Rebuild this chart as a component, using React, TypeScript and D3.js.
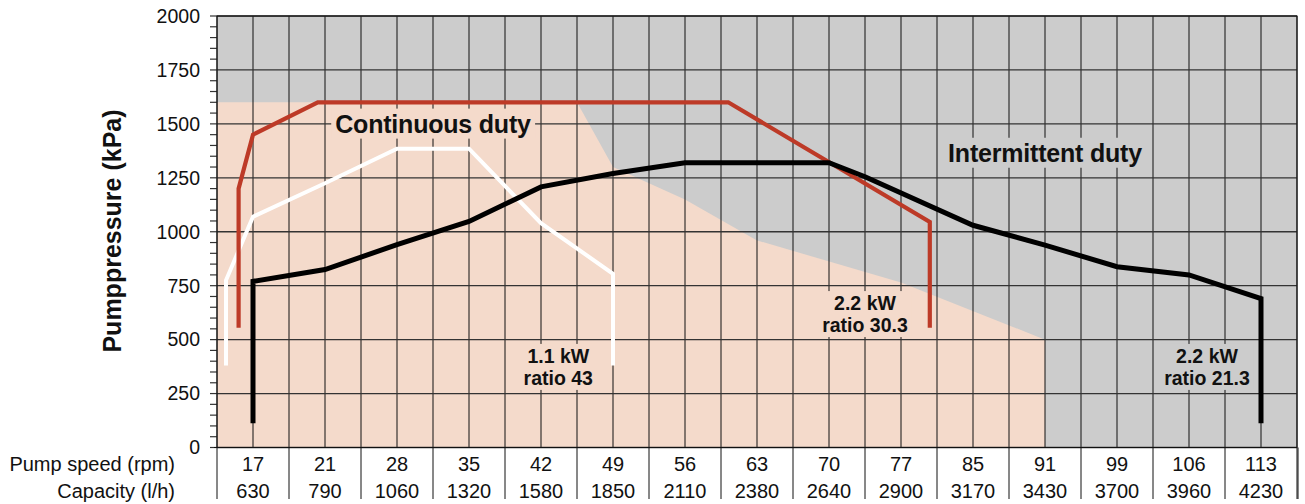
import React, { useEffect, useRef } from 'react';
import * as d3 from 'd3';

// categories along the bottom
const pumpSpeeds = [17, 21, 28, 35, 42, 49, 56, 63, 70, 77, 85, 91, 99, 106, 113];
const capacities = [630, 790, 1060, 1320, 1580, 1850, 2110, 2380, 2640, 2900, 3170, 3430, 3700, 3960, 4230];
const pressureTicks = [0, 250, 500, 750, 1000, 1250, 1500, 1750, 2000];

// curves: [column index, pressure kPa]
const motor11: [number, number][] = [
  [-0.375, 380], [-0.375, 775], [0, 1070], [1, 1225], [2, 1385], [3, 1385], [4, 1040], [5, 805], [5, 380],
];
const motor22r30: [number, number][] = [
  [-0.2, 555], [-0.2, 1200], [0, 1450], [0.9, 1600], [6.6, 1600], [9.4, 1045], [9.4, 555],
];
const motor22r21: [number, number][] = [
  [0, 112], [0, 770], [1, 825], [2, 940], [3, 1048], [4, 1208], [5, 1270], [6, 1320], [8, 1320],
  [8.5, 1255], [10, 1030], [11, 938], [12, 838], [13, 800], [14, 690], [14, 112],
];
// continuous duty area (the rest of the plot is intermittent)
const continuousArea: [number, number][] = [
  [-0.5, 0], [-0.5, 1600], [4.5, 1600], [5, 1300], [6, 1150], [7, 960], [9, 765], [11, 500], [11, 0],
];

const areaLabels = [
  { text: 'Continuous duty', x: 2.5, y: 1500, bg: '#f4dacb' },
  { text: 'Intermittent duty', x: 11, y: 1365, bg: '#cccccc' },
];
const curveLabels = [
  { lines: ['1.1 kW', 'ratio 43'], x: 4.24, y: 392, bg: '#f4dacb' },
  { lines: ['2.2 kW', 'ratio 30.3'], x: 8.5, y: 637, bg: '#f4dacb' },
  { lines: ['2.2 kW', 'ratio 21.3'], x: 13.25, y: 392, bg: '#cccccc' },
];

const W = 1305;
const H = 504;
const left = 217;
const right = 1297;
const top = 16;
const bottom = 447.5;
const font = 'Helvetica, Arial, "Liberation Sans", sans-serif';

export default function App() {
  const ref = useRef<SVGSVGElement>(null);

  const x = d3.scaleLinear().domain([-0.5, pumpSpeeds.length - 0.5]).range([left, right]);
  const y = d3.scaleLinear().domain([0, 2000]).range([bottom, top]);
  const line = d3.line<[number, number]>().x(d => x(d[0])).y(d => y(d[1]));

  const minorTicks = d3.range(0, 2001, 50);
  const vGrid = d3.range(-0.5, pumpSpeeds.length, 0.5);
  const bounds = d3.range(-0.5, pumpSpeeds.length, 1);

  useEffect(() => {
    // knock the grid out behind the labels
    const svg = d3.select(ref.current);
    svg.selectAll<SVGGElement, unknown>('g.lbl').each(function () {
      const g = d3.select(this);
      const b = (this as SVGGElement).getBBox();
      g.insert('rect', ':first-child')
        .attr('x', b.x - 4)
        .attr('y', b.y - 1)
        .attr('width', b.width + 8)
        .attr('height', b.height + 2)
        .attr('fill', g.attr('data-bg'));
    });
  }, []);

  return (
    <svg ref={ref} width={W} height={H} style={{ position: 'absolute', left: 0, top: 0 }} fontFamily={font}>
      <rect x={left} y={top} width={right - left} height={bottom - top} fill="#cccccc" />
      <path d={line(continuousArea) + 'Z'} fill="#f4dacb" />

      {/* grid */}
      {vGrid.map(v => (
        <line key={'v' + v} x1={x(v)} x2={x(v)} y1={top} y2={bottom} stroke="#111" strokeWidth={1} />
      ))}
      {pressureTicks.map(t => (
        <line key={'h' + t} x1={left} x2={right} y1={y(t)} y2={y(t)} stroke="#333" strokeWidth={1.3} />
      ))}

      {/* y axis */}
      {minorTicks.map(t => (
        <line key={'m' + t} x1={left - 7} x2={left} y1={y(t)} y2={y(t)} stroke="#333" strokeWidth={1.2} />
      ))}
      {pressureTicks.map(t => (
        <text key={'t' + t} x={200} y={y(t)} dy="0.35em" textAnchor="end" fontSize={19.5} fill="#111">
          {t}
        </text>
      ))}
      <text
        transform={`translate(121,231) rotate(-90)`}
        textAnchor="middle"
        fontSize={25}
        fontWeight="bold"
        fill="#111"
      >
        Pumppressure (kPa)
      </text>

      {/* bottom category table */}
      <line x1={left - 3} x2={right} y1={bottom} y2={bottom} stroke="#111" strokeWidth={1.2} />
      {bounds.map(b => (
        <line key={'b' + b} x1={x(b)} x2={x(b)} y1={bottom} y2={499} stroke="#111" strokeWidth={1} />
      ))}
      <line x1={right + 1} x2={right + 1} y1={bottom} y2={499} stroke="#111" strokeWidth={1} />
      <text x={175} y={471} textAnchor="end" fontSize={20} fill="#111">Pump speed (rpm)</text>
      <text x={175} y={498} textAnchor="end" fontSize={20} fill="#111">Capacity (l/h)</text>
      {pumpSpeeds.map((s, i) => (
        <text key={'s' + i} x={x(i)} y={471} textAnchor="middle" fontSize={20} fill="#111">{s}</text>
      ))}
      {capacities.map((c, i) => (
        <text key={'c' + i} x={x(i)} y={498} textAnchor="middle" fontSize={20} fill="#111">{c}</text>
      ))}

      {/* labels with knocked-out background */}
      {areaLabels.map(l => (
        <g key={l.text} className="lbl" data-bg={l.bg}>
          <text x={x(l.x)} y={y(l.y)} dy="0.35em" textAnchor="middle" fontSize={25} fontWeight="bold" fill="#111" letterSpacing={-0.2}>
            {l.text}
          </text>
        </g>
      ))}
      {curveLabels.map((l, k) => (
        <g key={'cl' + k} className="lbl" data-bg={l.bg}>
          {l.lines.map((t, j) => (
            <text key={j} x={x(l.x)} y={y(l.y) + j * 22} textAnchor="middle" fontSize={19.5} fontWeight="bold" fill="#111">
              {t}
            </text>
          ))}
        </g>
      ))}

      {/* motor curves */}
      <path d={line(motor11)!} fill="none" stroke="#ffffff" strokeWidth={4} strokeLinejoin="miter" />
      <path d={line(motor22r30)!} fill="none" stroke="#bd3a27" strokeWidth={4.2} strokeLinejoin="miter" />
      <path d={line(motor22r21)!} fill="none" stroke="#000000" strokeWidth={5} strokeLinejoin="miter" />

      <rect x={left} y={top} width={right - left} height={bottom - top} fill="none" stroke="#111" strokeWidth={1} />
    </svg>
  );
}
